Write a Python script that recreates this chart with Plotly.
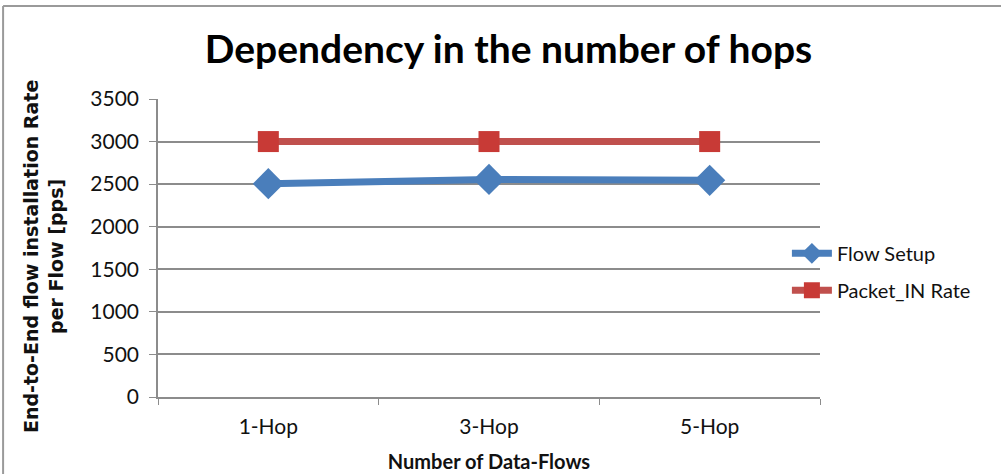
import plotly.graph_objects as go

# Hop configurations and measured rates (packets per second)
hops = ["1-Hop", "3-Hop", "5-Hop"]
flow_setup = [2505, 2555, 2545]
packet_in_rate = [3000, 3000, 3000]

y_ticks = [0, 500, 1000, 1500, 2000, 2500, 3000, 3500]

BLUE = "#4A7EBB"
RED = "#C0504D"
GRID = "#8C8C8C"
TICK_FONT = dict(family="Lato, 'Open Sans', sans-serif", size=21, color="#111111")

fig = go.Figure()

fig.add_trace(go.Scatter(
    x=hops, y=flow_setup, name="Flow Setup", mode="lines+markers",
    line=dict(color=BLUE, width=7),
    marker=dict(symbol="diamond", size=24, color=BLUE),
    legendgroup="a",
))
fig.add_trace(go.Scatter(
    x=hops, y=packet_in_rate, name="Packet_IN Rate", mode="lines+markers",
    line=dict(color=RED, width=7),
    marker=dict(symbol="square", size=21, color="#C83A36"),
    legendgroup="b",
))

fig.update_layout(
    width=1001, height=474,
    margin=dict(l=158, r=181, t=99, b=77),
    paper_bgcolor="white", plot_bgcolor="white",
    title=dict(
        text="<b>Dependency in the number of hops</b>",
        x=0.508, xanchor="center", y=0.895, yanchor="middle",
        font=dict(family="Lato, 'Open Sans', sans-serif", size=39, color="#000000"),
    ),
    xaxis=dict(
        range=[-0.5, 2.5], automargin=False,
        showgrid=False, showline=True, linecolor=GRID, linewidth=1.5,
        ticks="outside", ticklen=6, tickcolor=GRID, tickson="boundaries",
        tickfont=TICK_FONT, ticklabelstandoff=10,
        title=dict(text="<b>Number of Data-Flows</b>", standoff=18,
                   font=dict(family="Lato, 'Open Sans', sans-serif", size=20, color="#111111")),
    ),
    yaxis=dict(
        range=[0, 3500], tickvals=y_ticks, automargin=False,
        showgrid=True, gridcolor=GRID, gridwidth=1.5,
        showline=True, linecolor=GRID, linewidth=1.5,
        ticks="outside", ticklen=7, tickcolor=GRID,
        tickfont=TICK_FONT, zeroline=False, ticklabelstandoff=6,
    ),
    legend=dict(
        x=0.95, xanchor="left", y=0.42, yanchor="middle",
        font=dict(family="Lato, 'Open Sans', sans-serif", size=20, color="#111111"),
        bgcolor="rgba(0,0,0,0)", tracegroupgap=8, itemwidth=40,
    ),
    showlegend=True,
)

# Vertical axis caption, set beside the tick labels
fig.add_annotation(
    text="<b>End-to-End flow installation Rate<br>per Flow [pps]</b>",
    xref="paper", yref="paper", x=-0.172, y=0.47, xanchor="center", yanchor="middle",
    textangle=-90, showarrow=False,
    font=dict(family="'DejaVu Sans', Verdana, sans-serif", size=19, color="#111111"),
)

# Outer chart frame (top and left edges)
fig.add_shape(type="line", xref="paper", yref="paper",
              x0=-0.234, x1=1.4, y0=1.312, y1=1.312,
              line=dict(color="#9A9A9A", width=2))
fig.add_shape(type="line", xref="paper", yref="paper",
              x0=-0.234, x1=-0.234, y0=-0.5, y1=1.312,
              line=dict(color="#9A9A9A", width=2))

fig.write_html("out.html")
